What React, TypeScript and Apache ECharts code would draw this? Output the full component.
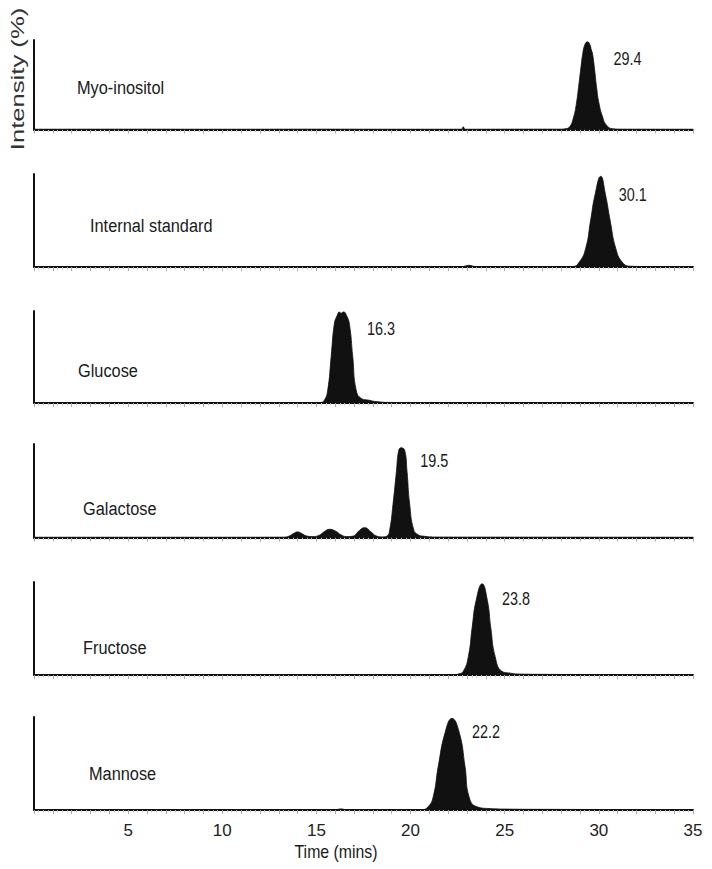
import React, { useEffect, useRef } from "react";
import * as echarts from "echarts";

// ---------- data ----------
const compoundNames = ["Myo-inositol", "Internal standard", "Glucose", "Galactose", "Fructose", "Mannose"];
const retentionTimes = [29.4, 30.1, 16.3, 19.5, 23.8, 22.2];
const peakLabels = ["29.4", "30.1", "16.3", "19.5", "23.8", "22.2"];
const xTickLabels = [5, 10, 15, 20, 25, 30, 35];
const timeMin = 0;
const timeMax = 35;

const myoInositol = [
  [0, 0.3], [5, 0.4], [10, 0.3], [15, 0.4], [20, 0.3], [22.7, 0.3], [22.8, 3], [22.9, 0.3], [26, 0.4],
  [28.0, 0.4], [28.2, 0.8], [28.45, 3], [28.66, 14], [28.8, 28], [28.92, 47], [29.04, 68], [29.14, 84],
  [29.26, 95], [29.4, 98], [29.52, 95], [29.6, 89], [29.67, 84], [29.78, 66], [29.88, 47], [30.0, 30],
  [30.2, 14], [30.4, 5], [30.74, 0.8], [31.2, 0.4], [35, 0.3],
];
const internalStandard = [
  [0, 0.3], [10, 0.4], [20, 0.3], [22.7, 0.3], [23.1, 1.8], [23.5, 0.3], [27, 0.3], [28.6, 0.5],
  [28.95, 5], [29.3, 20], [29.56, 50], [29.8, 78], [30.1, 97.5], [30.35, 78], [30.6, 50], [30.9, 20],
  [31.25, 5], [31.7, 0.8], [33, 0.4], [35, 0.3],
];
const glucose = [
  [0, 0.3], [10, 0.3], [15, 0.3], [15.2, 0.5], [15.42, 3], [15.6, 14], [15.78, 50], [15.95, 86],
  [16.1, 95], [16.22, 99], [16.3, 97.5], [16.38, 98.5], [16.45, 99], [16.6, 95], [16.75, 86], [16.93, 50],
  [17.11, 14], [17.38, 5], [17.8, 3], [18.18, 1.5], [19, 0.6], [25, 0.4], [35, 0.3],
];
const galactose = [
  [0, 0.3], [10, 0.3], [13.3, 0.4], [13.55, 1.5], [13.8, 4.5], [14.0, 6], [14.2, 4.5], [14.5, 1.5],
  [14.8, 1], [15.1, 2], [15.4, 6], [15.69, 8.8], [16.0, 7], [16.3, 3], [16.6, 1], [16.95, 1.5],
  [17.2, 6], [17.56, 10.5], [17.9, 6], [18.2, 1.5], [18.5, 0.6], [18.75, 1.5], [18.89, 8], [19.07, 36],
  [19.25, 71], [19.37, 93], [19.5, 96], [19.69, 93], [19.81, 71], [19.95, 36], [20.17, 8], [20.4, 3],
  [20.65, 1.5], [21.38, 0.5], [25, 0.4], [35, 0.3],
];
const fructose = [
  [0, 0.3], [10, 0.3], [20, 0.3], [22.3, 0.3], [22.53, 1], [22.8, 4], [23.07, 20], [23.27, 51],
  [23.48, 80], [23.8, 98], [24.08, 80], [24.26, 51], [24.49, 20], [24.85, 4], [25.3, 2], [25.83, 1],
  [27, 0.7], [30, 0.5], [35, 0.4],
];
const mannose = [
  [0, 0.3], [10, 0.3], [16.0, 0.3], [16.3, 1.2], [16.6, 0.3], [20, 0.3], [20.6, 0.4], [20.93, 3.5],
  [21.2, 14], [21.47, 47], [21.83, 83], [22.2, 98.5], [22.59, 83], [22.89, 47], [23.11, 14],
  [23.52, 3.5], [24.23, 1.5], [25, 1], [27, 0.7], [35, 0.4],
];
const chromatograms = [myoInositol, internalStandard, glucose, galactose, fructose, mannose];

// ---------- layout ----------
const W = 712;
const H = 869;
const gridLeft = 34;
const gridRight = 19;
const panelTop = [40, 174, 311, 444, 582, 717];
const panelBottom = [129.5, 267, 403, 537.5, 675, 810];
const nameLabelPos = [[77, 88], [90, 226], [78, 371], [83, 509], [83, 648], [89, 774]];
const peakLabelOffset = [[26, 17], [18, 18], [26, 16], [19, 13], [20, 15], [20, 13]];

export default function App() {
  const ref = useRef<HTMLDivElement>(null);

  useEffect(() => {
    if (!ref.current) return;
    const chart = echarts.init(ref.current, null, { renderer: "svg" });
    const n = chromatograms.length;
    const grids = [];
    const xAxes = [];
    const yAxes = [];
    const series = [];
    for (let i = 0; i < n; i++) {
      const last = i === n - 1;
      grids.push({
        left: gridLeft,
        right: gridRight,
        top: panelTop[i],
        height: panelBottom[i] - panelTop[i],
      });
      xAxes.push({
        type: "value",
        gridIndex: i,
        min: timeMin,
        max: timeMax,
        interval: 1,
        axisLine: { show: true, onZero: false, lineStyle: { color: "#111", width: 2 } },
        axisTick: { show: true, length: 4, lineStyle: { color: "#aaa", width: 1 } },
        minorTick: { show: true, splitNumber: 4, length: 2.5, lineStyle: { color: "#c4c4c4", width: 1 } },
        splitLine: { show: false },
        axisLabel: {
          show: last,
          margin: 12,
          color: "#222",
          fontSize: 17,
          fontFamily: "Liberation Sans",
          formatter: (v: number) => (xTickLabels.indexOf(v) >= 0 ? String(v) : ""),
        },
      });
      yAxes.push({
        type: "value",
        gridIndex: i,
        min: 0,
        max: 100,
        axisLine: { show: true, lineStyle: { color: "#111", width: 2 } },
        axisTick: { show: false },
        axisLabel: { show: false },
        splitLine: { show: false },
      });
      series.push({
        type: "line",
        name: compoundNames[i],
        xAxisIndex: i,
        yAxisIndex: i,
        data: chromatograms[i],
        symbol: "none",
        smooth: 0.5,
        lineStyle: { color: "#111", width: 0.8 },
        areaStyle: { color: "#111", opacity: 1 },
        silent: true,
      });
    }

    chart.setOption({
      animation: false,
      backgroundColor: "#fff",
      grid: grids,
      xAxis: xAxes,
      yAxis: yAxes,
      series,
    });

    const graphics: any[] = [];
    for (let i = 0; i < n; i++) {
      graphics.push({
        type: "text",
        x: nameLabelPos[i][0],
        y: nameLabelPos[i][1],
        scaleX: 0.86,
        style: {
          text: compoundNames[i],
          fontSize: 19,
          fontFamily: "Liberation Sans",
          fill: "#1a1a1a",
          align: "left",
          verticalAlign: "middle",
        },
      });
    }
    for (let i = 0; i < n; i++) {
      const peakVal = Math.max(...chromatograms[i].map((d) => d[1]));
      const p = chart.convertToPixel({ gridIndex: i }, [retentionTimes[i], peakVal]) as number[];
      graphics.push({
        type: "text",
        x: p[0] + peakLabelOffset[i][0],
        y: p[1] + peakLabelOffset[i][1],
        scaleX: 0.8,
        style: {
          text: peakLabels[i],
          fontSize: 18,
          fontFamily: "Liberation Sans",
          fill: "#1a1a1a",
          align: "left",
          verticalAlign: "middle",
        },
      });
    }
    graphics.push({
      type: "text",
      x: 336,
      y: 852,
      scaleX: 0.88,
      style: {
        text: "Time (mins)",
        fontSize: 18,
        fontFamily: "Liberation Sans",
        fill: "#1a1a1a",
        align: "center",
        verticalAlign: "middle",
      },
    });
    graphics.push({
      type: "text",
      x: 18,
      y: 79,
      rotation: Math.PI / 2,
      scaleX: 1.35,
      style: {
        text: "Intensity (%)",
        fontSize: 19,
        fontFamily: "Liberation Sans",
        fill: "#333",
        align: "center",
        verticalAlign: "middle",
      },
    });
    chart.setOption({ graphic: graphics });

    return () => chart.dispose();
  }, []);

  return (
    <div
      ref={ref}
      style={{ position: "fixed", left: 0, top: 0, width: W, height: H, background: "#fff" }}
    />
  );
}
